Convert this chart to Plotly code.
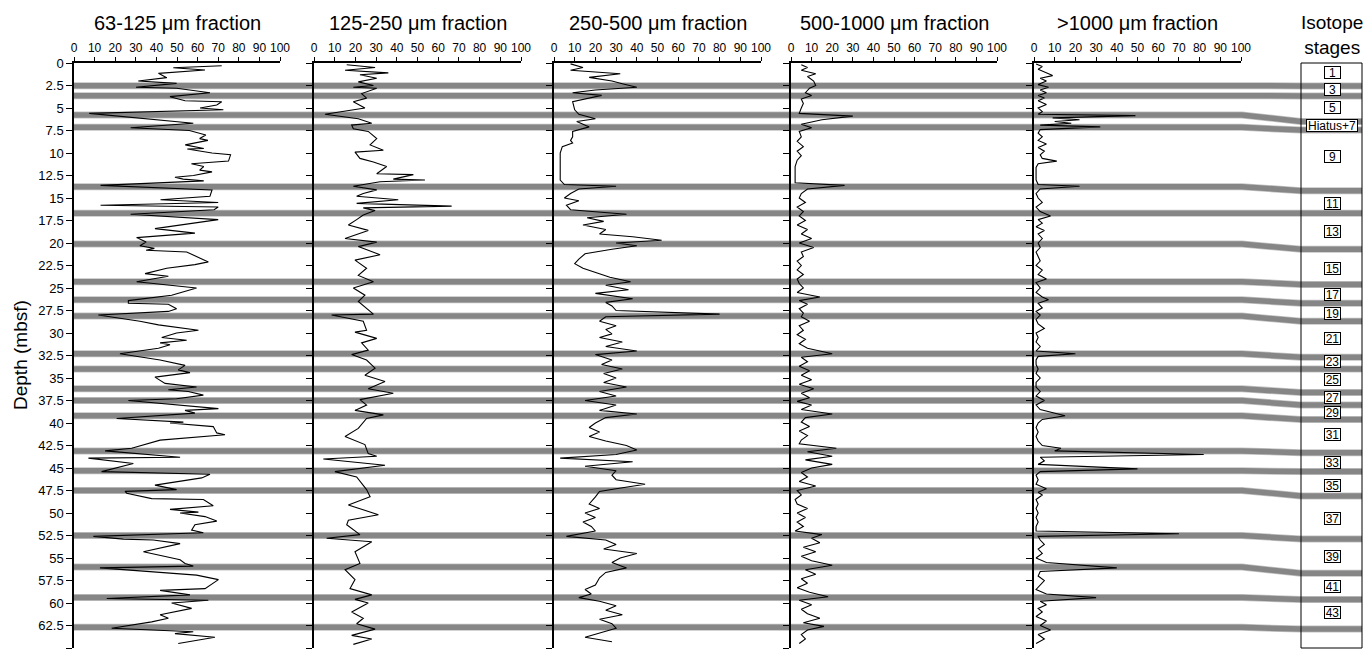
import plotly.graph_objects as go

W, H = 1366, 650
FONT = "Liberation Sans, Arial, Helvetica, sans-serif"

# ---------------- data ----------------
titles = ["63-125 \u03bcm fraction", "125-250 \u03bcm fraction", "250-500 \u03bcm fraction",
          "500-1000 \u03bcm fraction", ">1000 \u03bcm fraction"]

depth_f1 = [0.3, 0.52, 0.78, 1.15, 1.63, 2.0, 2.26, 2.7, 2.81, 3.3, 3.74, 4.2, 4.3, 4.67, 5.0, 5.2, 5.6,
            6.7, 7.2, 7.5, 8.0, 8.4, 8.6, 9.1, 9.5, 9.55, 10.0, 10.2, 10.9, 11.2, 11.5, 11.9, 12.1, 12.5,
            12.7, 12.9, 13.1, 13.6, 14.1, 14.8, 15.2, 15.5, 15.8, 16.0, 16.3, 16.8, 17.4, 18.4, 18.9,
            19.4, 19.9, 20.3, 20.6, 20.8, 21.0, 21.5, 22.1, 22.4, 22.8, 23.4, 23.7, 24.3, 25.0, 25.8,
            26.4, 26.7, 26.8, 27.3, 27.6, 28.0, 28.7, 29.1, 29.7, 30.0, 30.5, 30.8, 31.1, 31.3, 31.7,
            32.3, 33.0, 33.6, 34.1, 34.4, 34.9, 35.6, 36.0, 36.3, 36.5, 36.9, 37.3, 37.5, 38.4, 38.6,
            38.9, 39.5, 39.9, 40.0, 40.4, 41.1, 41.3, 41.9, 42.8, 43.1, 43.8, 43.9, 44.5, 45.4, 45.7,
            46.1, 46.9, 47.4, 47.6, 47.8, 48.4, 48.5, 49.2, 49.6, 49.9, 50.0, 50.4, 50.9, 51.3, 51.9,
            52.2, 52.6, 52.9, 53.0, 53.4, 54.3, 55.2, 55.6, 55.9, 56.1, 56.9, 57.4, 58.4, 58.6, 59.1,
            59.5, 59.7, 60.0, 60.6, 61.3, 61.7, 62.1, 62.8, 63.2, 63.4, 63.8, 64.5]
value_f1 = [71.7, 48.2, 63.6, 41.0, 45.0, 31.2, 49.8, 30.1, 49.8, 66.0, 46.6, 53.9, 71.7, 69.3, 61.2, 72.5,
            7.4, 57.9, 27.5, 56.0, 64.0, 61.0, 65.0, 54.0, 63.0, 55.0, 67.0, 76.0, 75.0, 57.0, 63.0,
            61.0, 67.0, 58.0, 49.0, 53.0, 63.0, 12.9, 67.0, 66.0, 42.0, 70.0, 12.9, 70.0, 68.0, 27.5,
            70.0, 39.3, 58.7, 30.4, 35.0, 32.0, 39.0, 35.0, 54.7, 59.5, 65.2, 58.7, 45.0, 34.5, 45.8,
            30.4, 59.5, 47.4, 26.4, 26.4, 45.8, 49.8, 45.8, 11.8, 32.0, 41.0, 60.4, 49.8, 42.6, 54.7,
            41.8, 46.6, 41.0, 22.3, 41.8, 53.9, 50.6, 56.3, 39.3, 44.2, 59.5, 45.8, 55.5, 62.8, 49.8,
            26.4, 70.1, 53.9, 58.7, 20.7, 53.1, 46.6, 67.6, 69.3, 73.3, 41.8, 28.0, 15.1, 51.5, 7.0,
            28.8, 13.4, 66.0, 62.0, 39.3, 49.8, 24.8, 25.6, 37.7, 62.8, 67.6, 46.6, 60.4, 51.5, 63.6,
            69.3, 58.7, 57.1, 62.8, 9.4, 24.0, 38.5, 51.5, 33.7, 51.5, 53.9, 57.9, 12.6, 59.5, 70.1,
            63.6, 41.8, 56.3, 15.9, 65.2, 47.4, 57.1, 41.8, 45.8, 37.7, 18.3, 57.9, 49.0, 68.4, 50.6]

depth_f2 = [0.2, 0.5, 0.8, 1.1, 1.3, 1.7, 2.1, 2.5, 2.7, 2.8, 3.4, 3.9, 4.3, 5.0, 5.7, 6.2, 6.7, 6.9,
            7.3, 7.6, 8.4, 9.1, 9.7, 9.9, 10.6, 11.0, 11.5, 12.3, 12.4, 12.9, 13.0, 13.2, 13.7, 14.1,
            14.5, 14.8, 15.2, 15.6, 15.9, 16.1, 16.4, 16.9, 17.4, 18.0, 18.6, 19.5, 19.9, 20.4, 21.3,
            21.9, 22.8, 23.6, 24.3, 25.0, 25.8, 26.5, 27.9, 28.0, 28.7, 29.7, 29.9, 30.6, 31.1, 31.9,
            32.4, 33.0, 33.9, 34.7, 35.4, 36.2, 36.7, 37.4, 38.0, 38.6, 39.1, 39.5, 40.6, 41.5, 42.4,
            43.4, 43.7, 44.0, 44.7, 45.4, 46.0, 47.4, 48.2, 49.1, 50.2, 50.8, 51.3, 52.4, 52.8, 53.2,
            54.3, 55.6, 56.3, 57.4, 58.4, 59.1, 59.6, 60.0, 61.0, 61.7, 62.3, 62.9, 63.6, 64.0, 64.6]
value_f2 = [15.8, 29.5, 15.0, 35.9, 22.2, 30.3, 21.4, 28.7, 19.0, 30.3, 23.0, 25.4, 19.0, 24.6, 5.3,
            21.4, 27.9, 18.2, 19.0, 26.2, 30.3, 27.1, 33.5, 19.8, 22.2, 28.7, 35.1, 30.3, 48.0, 38.3,
            53.6, 31.9, 19.0, 30.3, 23.8, 20.6, 40.7, 20.6, 66.5, 23.8, 29.5, 23.8, 20.6, 16.6, 26.2,
            15.0, 30.3, 21.4, 31.9, 19.8, 25.4, 21.4, 28.7, 19.0, 24.6, 21.4, 28.7, 8.5, 23.8, 25.4,
            19.8, 30.3, 23.0, 26.2, 18.2, 25.4, 29.5, 24.6, 34.3, 26.2, 38.3, 22.2, 25.4, 19.8, 33.5,
            25.4, 21.4, 15.0, 24.6, 26.2, 30.3, 4.5, 34.3, 10.1, 20.6, 25.4, 27.1, 16.6, 31.1, 16.6,
            15.8, 22.2, 6.1, 27.9, 19.8, 22.2, 15.0, 19.8, 17.4, 27.9, 19.8, 26.2, 18.2, 23.8, 20.6,
            29.5, 18.2, 27.9, 19.0]

depth_f3 = [0.1, 0.5, 0.8, 1.2, 1.6, 2.0, 2.3, 2.7, 3.0, 3.3, 3.6, 3.9, 4.3, 5.2, 5.7, 6.2, 6.5, 7.1,
            7.6, 8.2, 8.6, 8.9, 9.3, 10.0, 11.0, 12.0, 13.0, 13.5, 13.7, 14.0, 14.5, 15.0, 15.3, 15.8,
            16.3, 16.8, 17.2, 17.6, 18.0, 18.5, 19.0, 19.3, 19.7, 20.0, 20.3, 20.7, 21.2, 21.8, 22.3,
            22.8, 23.3, 23.8, 24.3, 24.7, 25.2, 25.6, 26.2, 26.6, 27.0, 27.5, 27.9, 28.2, 28.7, 29.2,
            29.6, 30.1, 30.5, 31.0, 31.5, 32.0, 32.4, 33.0, 33.5, 34.0, 34.5, 35.0, 35.5, 36.0, 36.5,
            37.0, 37.5, 38.0, 38.6, 39.0, 39.4, 40.0, 40.5, 41.0, 41.5, 42.0, 42.5, 43.0, 43.5, 43.9,
            44.3, 44.8, 45.3, 45.8, 46.3, 46.8, 47.3, 47.6, 48.2, 49.0, 49.5, 50.0, 50.5, 51.0, 51.5,
            52.0, 52.6, 53.0, 53.5, 54.0, 54.5, 55.0, 55.5, 56.1, 56.6, 57.2, 58.0, 58.5, 59.0, 59.4,
            59.8, 60.3, 60.8, 61.3, 61.8, 62.3, 62.8, 63.3, 63.8, 64.3]
value_f3 = [8, 14, 8, 32, 17, 28, 33, 40, 20, 9, 23, 17, 9, 10, 12, 20, 11, 17, 9, 9, 8, 9, 4, 3, 3, 3,
            3, 5, 30, 12, 8, 5, 12, 6, 8, 35, 16, 24, 14, 25, 22, 38, 52, 30, 40, 28, 15, 12, 10, 14,
            20, 27, 37, 25, 36, 20, 38, 25, 28, 30, 80, 25, 22, 30, 25, 28, 22, 33, 25, 40, 20, 28,
            23, 33, 24, 30, 24, 35, 22, 30, 15, 30, 22, 40, 25, 20, 17, 22, 17, 25, 35, 40, 30, 3, 38,
            15, 30, 28, 30, 44, 30, 22, 20, 17, 22, 15, 20, 14, 18, 20, 6, 25, 30, 24, 40, 32, 28, 35,
            25, 22, 20, 15, 18, 12, 22, 30, 25, 33, 22, 28, 30, 22, 15, 28]

depth_f4 = [0.2, 0.5, 0.8, 1.2, 1.5, 2.0, 2.5, 2.8, 3.3, 3.6, 4.0, 4.5, 5.0, 5.6, 5.9, 6.3, 6.8, 7.2,
            7.6, 8.2, 8.7, 9.3, 9.8, 10.3, 10.8, 11.5, 12.5, 13.3, 13.6, 14.0, 14.5, 15.0, 15.5, 16.0,
            16.5, 17.0, 17.5, 18.0, 18.5, 19.0, 19.5, 20.0, 20.5, 21.0, 21.5, 22.0, 22.5, 23.0, 23.5,
            24.0, 24.5, 25.0, 25.5, 26.0, 26.4, 26.8, 27.3, 27.8, 28.2, 28.7, 29.2, 29.7, 30.2, 30.7,
            31.2, 31.7, 32.3, 32.7, 33.2, 33.7, 34.2, 34.7, 35.2, 35.7, 36.2, 36.7, 37.2, 37.6, 38.0,
            38.5, 39.0, 39.4, 39.9, 40.4, 40.9, 41.4, 41.9, 42.3, 42.8, 43.2, 43.7, 44.1, 44.6, 45.0,
            45.5, 46.0, 46.5, 47.0, 47.5, 48.0, 48.5, 49.0, 49.5, 50.0, 50.5, 51.0, 51.5, 52.0, 52.4,
            52.8, 53.3, 53.8, 54.3, 54.8, 55.3, 55.8, 56.3, 56.8, 57.3, 57.8, 58.3, 58.8, 59.3, 59.7,
            60.2, 60.7, 61.2, 61.7, 62.2, 62.6, 63.0, 63.5, 64.0, 64.5]
value_f4 = [5, 8, 5, 12, 8, 11, 12, 9, 7, 10, 5, 6, 5, 4, 30, 15, 5, 10, 4, 5, 3, 6, 3, 5, 3, 2, 2, 2,
            26, 8, 5, 4, 7, 3, 6, 4, 7, 3, 8, 5, 10, 4, 11, 5, 6, 3, 5, 3, 6, 3, 4, 6, 3, 14, 4, 8, 4,
            6, 5, 9, 4, 6, 3, 7, 4, 8, 20, 5, 8, 4, 9, 5, 10, 4, 11, 5, 9, 3, 10, 5, 20, 7, 5, 9, 4,
            8, 5, 4, 22, 8, 20, 7, 20, 10, 5, 8, 4, 12, 3, 5, 2, 3, 8, 3, 7, 3, 6, 2, 15, 10, 14, 6,
            12, 5, 10, 20, 7, 12, 5, 8, 3, 9, 18, 4, 10, 5, 8, 14, 6, 16, 8, 5, 7, 4]

depth_f5 = [0.1, 0.4, 0.7, 1.0, 1.4, 1.7, 2.0, 2.4, 2.7, 3.0, 3.3, 3.6, 3.9, 4.2, 4.6, 5.0, 5.4, 5.7,
            5.85, 6.1, 6.3, 6.5, 6.7, 6.9, 7.1, 7.4, 7.8, 8.2, 8.6, 9.0, 9.4, 9.8, 10.2, 10.6, 10.9,
            11.2, 11.6, 12.0, 12.5, 13.0, 13.5, 13.7, 14.0, 14.5, 15.0, 15.5, 16.0, 16.5, 17.0, 17.4,
            17.8, 18.2, 18.6, 19.0, 19.5, 20.0, 20.5, 21.0, 21.5, 22.0, 22.5, 23.0, 23.5, 24.0, 24.4,
            25.0, 25.5, 26.0, 26.3, 26.7, 27.2, 27.6, 28.0, 28.5, 29.0, 29.5, 30.0, 30.5, 31.0, 31.5,
            32.0, 32.3, 32.6, 33.0, 33.5, 34.0, 34.5, 35.0, 35.5, 36.0, 36.5, 37.0, 37.5, 38.0, 38.5,
            39.2, 39.6, 40.0, 40.5, 41.0, 41.5, 42.0, 42.5, 42.8, 43.1, 43.5, 43.8, 44.2, 44.6, 45.1,
            45.4, 45.8, 46.3, 46.8, 47.3, 47.7, 48.0, 48.5, 49.0, 49.5, 50.0, 50.5, 51.0, 51.5, 52.0,
            52.3, 52.6, 53.0, 53.5, 54.0, 54.5, 55.0, 55.5, 56.1, 56.5, 57.0, 57.5, 58.0, 58.5, 59.0,
            59.4, 59.8, 60.2, 60.6, 61.0, 61.5, 62.0, 62.5, 63.0, 63.5, 64.0, 64.5]
value_f5 = [1, 4, 2, 5, 9, 3, 6, 2, 7, 3, 6, 2, 5, 2, 6, 2, 4, 2, 49, 9, 22, 10, 18, 3, 32, 3, 2, 4,
            2, 6, 2, 5, 3, 4, 11, 2, 1, 1, 1, 1, 2, 22, 3, 1, 2, 4, 1, 3, 8, 2, 4, 1, 5, 2, 4, 2, 3,
            1, 2, 3, 1, 4, 2, 6, 1, 3, 1, 4, 7, 2, 4, 1, 3, 1, 2, 5, 1, 2, 1, 3, 1, 20, 2, 1, 1, 2,
            1, 3, 1, 1, 3, 1, 5, 1, 3, 15, 4, 2, 1, 2, 1, 2, 4, 13, 10, 82, 3, 5, 2, 50, 3, 1, 2, 1,
            6, 2, 4, 1, 2, 1, 2, 1, 2, 1, 1, 70, 2, 3, 5, 2, 4, 1, 6, 40, 3, 2, 5, 3, 1, 6, 30, 3, 6,
            2, 4, 1, 6, 3, 8, 2, 5, 1]

# boundaries: depth in the fraction panels and depth in the isotope column
band_depth_left = [2.52, 3.63, 5.78, 7.15, 13.74, 16.7, 20.1, 24.3, 26.3, 28.1, 32.3, 34.0, 36.2, 37.5,
                   39.2, 43.1, 45.3, 47.5, 52.5, 56.0, 59.4, 62.7]
band_depth_right = [2.56, 3.67, 6.5, 7.45, 14.2, 16.7, 20.7, 24.6, 26.7, 28.7, 32.7, 34.0, 36.6, 38.0,
                    39.6, 43.3, 45.4, 48.1, 52.9, 56.7, 59.6, 62.9]

stage_labels = ["1", "3", "5", "Hiatus+7", "9", "11", "13", "15", "17", "19", "21", "23", "25", "27",
                "29", "31", "33", "35", "37", "39", "41", "43"]
stage_depths = [1.1, 3.0, 4.9, 6.9, 10.4, 15.6, 18.7, 22.8, 25.7, 27.8, 30.6, 33.2, 35.2, 37.2, 38.8,
                41.3, 44.4, 46.9, 50.6, 54.8, 58.2, 61.1]

x_ticks = list(range(0, 101, 10))
y_ticks = [i * 2.5 for i in range(27)]

# ---------------- layout helpers ----------------
def fx(p):
    return p / W

def fy(p):
    return 1 - p / H

panels_px = [(74, 280), (314, 521), (554, 761), (791, 997), (1034, 1241)]
col_px = (1301, 1362)
top_px, bot_px = 63, 648

series = [(depth_f1, value_f1), (depth_f2, value_f2), (depth_f3, value_f3),
          (depth_f4, value_f4), (depth_f5, value_f5)]

fig = go.Figure()
layout = dict(
    width=W, height=H, margin=dict(l=0, r=0, t=0, b=0, autoexpand=False),
    paper_bgcolor="white", plot_bgcolor="rgba(0,0,0,0)",
    showlegend=False, font=dict(family=FONT, color="black", size=12),
)

for i, ((x0, x1), (d, v)) in enumerate(zip(panels_px, series), start=1):
    xa = "x" if i == 1 else f"x{i}"
    ya = "y" if i == 1 else f"y{i}"
    fig.add_trace(go.Scatter(x=v, y=d, mode="lines", xaxis=xa, yaxis=ya,
                             line=dict(color="black", width=1.1), hoverinfo="skip"))
    layout["xaxis" if i == 1 else f"xaxis{i}"] = dict(
        domain=[fx(x0), fx(x1)], range=[0, 100], side="top", anchor=ya, automargin=False,
        tickvals=x_ticks, ticks="outside", ticklen=4, tickwidth=1, tickcolor="black",
        showline=True, linecolor="black", linewidth=1.5, showgrid=False, zeroline=False,
        tickfont=dict(size=12, family=FONT), fixedrange=True)
    ydict = dict(
        domain=[fy(bot_px), fy(top_px)], range=[65, 0], anchor=xa, automargin=False,
        tickvals=y_ticks, ticks="outside", ticklen=6, tickwidth=1, tickcolor="black",
        showline=True, linecolor="black", linewidth=1.5, showgrid=False, zeroline=False,
        showticklabels=(i == 1), tickfont=dict(size=13, family=FONT), fixedrange=True)
    if i > 1:
        ydict["matches"] = "y"
    layout["yaxis" if i == 1 else f"yaxis{i}"] = ydict

fig.update_layout(**layout)

# boundary bands
xl, xr0 = fx(73), fx(1242)
xc0, xc1 = fx(col_px[0]), fx(col_px[1])
for dl, dr in zip(band_depth_left, band_depth_right):
    path = f"M {xl},{dl} L {xr0},{dl} L {xc0},{dr} L {xc1},{dr}"
    fig.add_shape(type="path", path=path, xref="paper", yref="y", layer="below",
                  line=dict(color="#c4c4c4", width=7))
    fig.add_shape(type="path", path=path, xref="paper", yref="y", layer="below",
                  line=dict(color="#868686", width=5.5))

# isotope column box
fig.add_shape(type="rect", xref="paper", yref="paper", x0=xc0, x1=xc1,
              y0=fy(bot_px), y1=fy(top_px), line=dict(color="black", width=1), layer="above")

for lab, dep in zip(stage_labels, stage_depths):
    fig.add_annotation(x=fx(1332), y=dep, xref="paper", yref="y", text=lab, showarrow=False,
                       font=dict(size=12, family=FONT), bgcolor="white", bordercolor="black",
                       borderwidth=1, borderpad=0, height=11,
                       width=(15 if len(lab) <= 2 else 50),
                       xanchor="center", yanchor="middle")

# titles
for (x0, x1), t in zip(panels_px, titles):
    fig.add_annotation(x=fx((x0 + x1) / 2), y=fy(23), xref="paper", yref="paper", text=t,
                       showarrow=False, font=dict(size=20, family=FONT),
                       xanchor="center", yanchor="middle")
fig.add_annotation(x=fx(1332), y=fy(35), xref="paper", yref="paper", text="Isotope<br>stages",
                   showarrow=False, font=dict(size=19, family=FONT), xanchor="center",
                   yanchor="middle")
fig.add_annotation(x=fx(21), y=fy(355), xref="paper", yref="paper", text="Depth (mbsf)",
                   showarrow=False, textangle=-90, font=dict(size=19, family=FONT),
                   xanchor="center", yanchor="middle")

fig.write_html("out.html")
